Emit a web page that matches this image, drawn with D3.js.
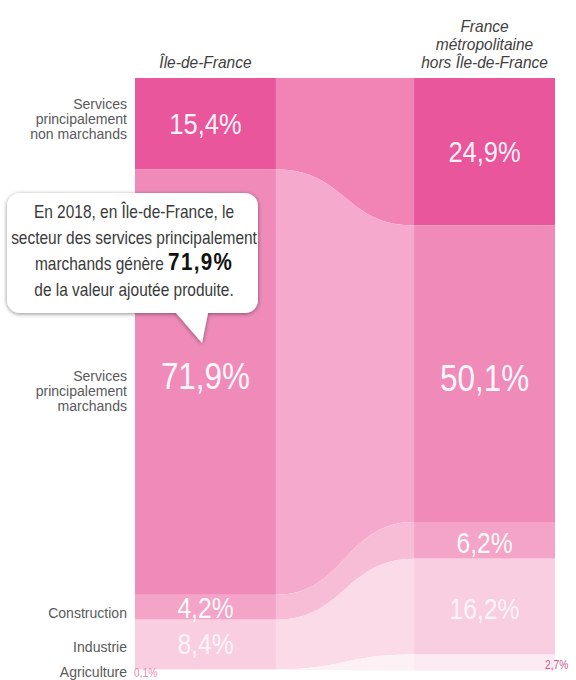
<!DOCTYPE html>
<html>
<head>
<meta charset="utf-8">
<script src="https://cdn.jsdelivr.net/npm/d3@7"></script>
<style>
  html, body { margin: 0; padding: 0; background: #fff; }
  text { font-family: "Liberation Sans", Arial, sans-serif; }
</style>
</head>
<body>
<svg id="chart" width="576" height="680"></svg>
<script>
// columns and sectors
var columns = ["Île-de-France", "France métropolitaine hors Île-de-France"];
var columnLines = [["Île-de-France"], ["France", "métropolitaine", "hors Île-de-France"]];
var sectors = ["Services principalement non marchands", "Services principalement marchands", "Construction", "Industrie", "Agriculture"];
var sectorLines = [["Services", "principalement", "non marchands"], ["Services", "principalement", "marchands"], ["Construction"], ["Industrie"], ["Agriculture"]];
// shares of value added (%)
var idfShares = [15.4, 71.9, 4.2, 8.4, 0.1];
var franceShares = [24.9, 50.1, 6.2, 16.2, 2.7];

var barColors = ["#e9569b", "#f08bb9", "#f3a4c7", "#f8cee0", "#fcebf2"];
var ribbonColors = ["#f283b5", "#f5a9cc", "#f7bdd7", "#fbdbe8", "#fdf1f6"];

var SQUEEZE = 0.85; //fake a condensed face

var svg = d3.select("#chart");

var x = d3.scaleBand()
          .domain(columns)
          .range([135, 555])
          .paddingInner(0.495);

var y = d3.scaleLinear()
          .domain([0, 100])
          .range([78, 670]);

var fmt = d3.formatLocale({decimal: ",", thousands: " ", grouping: [3], currency: ["", "€"]}).format(".1f");

//condensed text: a group squeezed horizontally, text drawn at its origin
function narrowText(parent, tx, ty, lines, lineHeight, sx) {
    var g = parent.append("g")
                  .attr("transform", "translate(" + tx + "," + ty + ")scale(" + (sx || SQUEEZE) + ",1)");
    var t = g.append("text").attr("x", 0).attr("y", 0);
    t.selectAll("tspan")
     .data(lines)
     .join("tspan")
     .attr("x", 0)
     .attr("dy", function(d, i) { return i ? lineHeight : 0; })
     .text(function(d) { return d; });
    return t;
}

//stack the shares so every segment knows where it starts
function stack(shares) {
    var acc = 0;
    return shares.map(function(v, i) {
        var s = {i: i, v: v, y0: acc, y1: acc + v};
        acc += v;
        return s;
    });
}
var idfStack = stack(idfShares);
var frStack = stack(franceShares);

//Ribbons between the two bars
var xl = x(columns[0]) + x.bandwidth();
var xr = x(columns[1]);
var xm = (xl + xr) / 2;
svg.append("g")
   .attr("id", "ribbons")
   .selectAll("path")
   .data(sectors)
   .join("path")
   .attr("fill", function(d, i) { return ribbonColors[i]; })
   .attr("d", function(d, i) {
       var a = idfStack[i], b = frStack[i];
       return "M" + xl + "," + y(a.y0) +
              "C" + xm + "," + y(a.y0) + " " + xm + "," + y(b.y0) + " " + xr + "," + y(b.y0) +
              "L" + xr + "," + y(b.y1) +
              "C" + xm + "," + y(b.y1) + " " + xm + "," + y(a.y1) + " " + xl + "," + y(a.y1) + "Z";
   });

//Bars
var stacks = [idfStack, frStack];
var bars = svg.append("g").attr("id", "bars");
columns.forEach(function(c, k) {
    bars.append("g")
        .selectAll("rect")
        .data(stacks[k])
        .join("rect")
        .attr("x", x(c))
        .attr("width", x.bandwidth())
        .attr("y", function(d) { return y(d.y0); })
        .attr("height", function(d) { return y(d.y1) - y(d.y0); })
        .attr("fill", function(d) { return barColors[d.i]; });
});

//Percentages inside the bars
var pctSize = [30, 37, 29, 29];
var labelOffsets = [[0, -6, 1, 0], [0, 4, 3, 3]];
columns.forEach(function(c, k) {
    stacks[k].slice(0, 4).forEach(function(d) {
        narrowText(svg, x(c) + x.bandwidth() / 2, (y(d.y0) + y(d.y1)) / 2 + labelOffsets[k][d.i], [fmt(d.v) + "%"], 0)
            .attr("text-anchor", "middle")
            .attr("dominant-baseline", "central")
            .attr("font-size", pctSize[d.i])
            .attr("fill", "#fff")
            .attr("fill-opacity", d.i == 3 ? 0.8 : 0.95);
    });
});

//tiny agriculture values outside the bars
narrowText(svg, x(columns[0]) - 1, 677, [fmt(idfShares[4]) + "%"], 0)
    .attr("font-size", 12)
    .attr("fill", "#ee86b3");
narrowText(svg, x(columns[1]) + x.bandwidth() - 10, 669, [fmt(franceShares[4]) + "%"], 0)
    .attr("font-size", 12)
    .attr("fill", "#c8568a");

//Column headers
columns.forEach(function(c, k) {
    var lines = columnLines[k];
    narrowText(svg, x(c) + x.bandwidth() / 2, 68 - 18 * (lines.length - 1), lines, 18, 0.97)
        .attr("text-anchor", "middle")
        .attr("font-size", 16)
        .attr("font-style", "italic")
        .attr("fill", "#3f3f3f");
});

//Sector labels on the left
var sectorY = [109, 381, 618, 652, 677];
sectors.forEach(function(s, i) {
    narrowText(svg, 127, sectorY[i], sectorLines[i], 15, 0.97)
        .attr("text-anchor", "end")
        .attr("font-size", 14.5)
        .attr("fill", "#5a5a5a");
});

//Callout
var defs = svg.append("defs");
var f = defs.append("filter").attr("id", "shadow").attr("x", "-10%").attr("y", "-10%").attr("width", "120%").attr("height", "130%");
f.append("feDropShadow").attr("dx", 0).attr("dy", 1).attr("stdDeviation", 2).attr("flood-color", "#000").attr("flood-opacity", 0.45);

var bx = 7, by = 193, bw = 251, bh = 120, r = 13;
var callout = svg.append("g").attr("id", "callout");
callout.append("path")
       .attr("fill", "#fff")
       .attr("filter", "url(#shadow)")
       .attr("d", "M" + (bx + r) + "," + by +
                  "H" + (bx + bw - r) + "A" + r + "," + r + " 0 0 1 " + (bx + bw) + "," + (by + r) +
                  "V" + (by + bh - r) + "A" + r + "," + r + " 0 0 1 " + (bx + bw - r) + "," + (by + bh) +
                  "H208L202,343L176," + (by + bh) +
                  "H" + (bx + r) + "A" + r + "," + r + " 0 0 1 " + bx + "," + (by + bh - r) +
                  "V" + (by + r) + "A" + r + "," + r + " 0 0 1 " + (bx + r) + "," + by + "Z");

var calloutLines = ["En 2018, en Île-de-France, le", "secteur des services principalement", "marchands génère ", "de la valeur ajoutée produite."];
var cy = [218, 244, 270, 296];
calloutLines.forEach(function(l, i) {
    var t = narrowText(callout, 134, cy[i], [l], 0, 0.86)
                .attr("text-anchor", "middle")
                .attr("font-size", 18)
                .attr("fill", "#3a3a3a");
    if (i == 2) {
        t.select("tspan")
         .append("tspan")
         .attr("font-size", 24)
         .attr("font-weight", "bold")
         .attr("letter-spacing", 1.5)
         .attr("fill", "#111")
         .text(fmt(idfShares[1]) + "%");
    }
});
</script>
</body>
</html>
